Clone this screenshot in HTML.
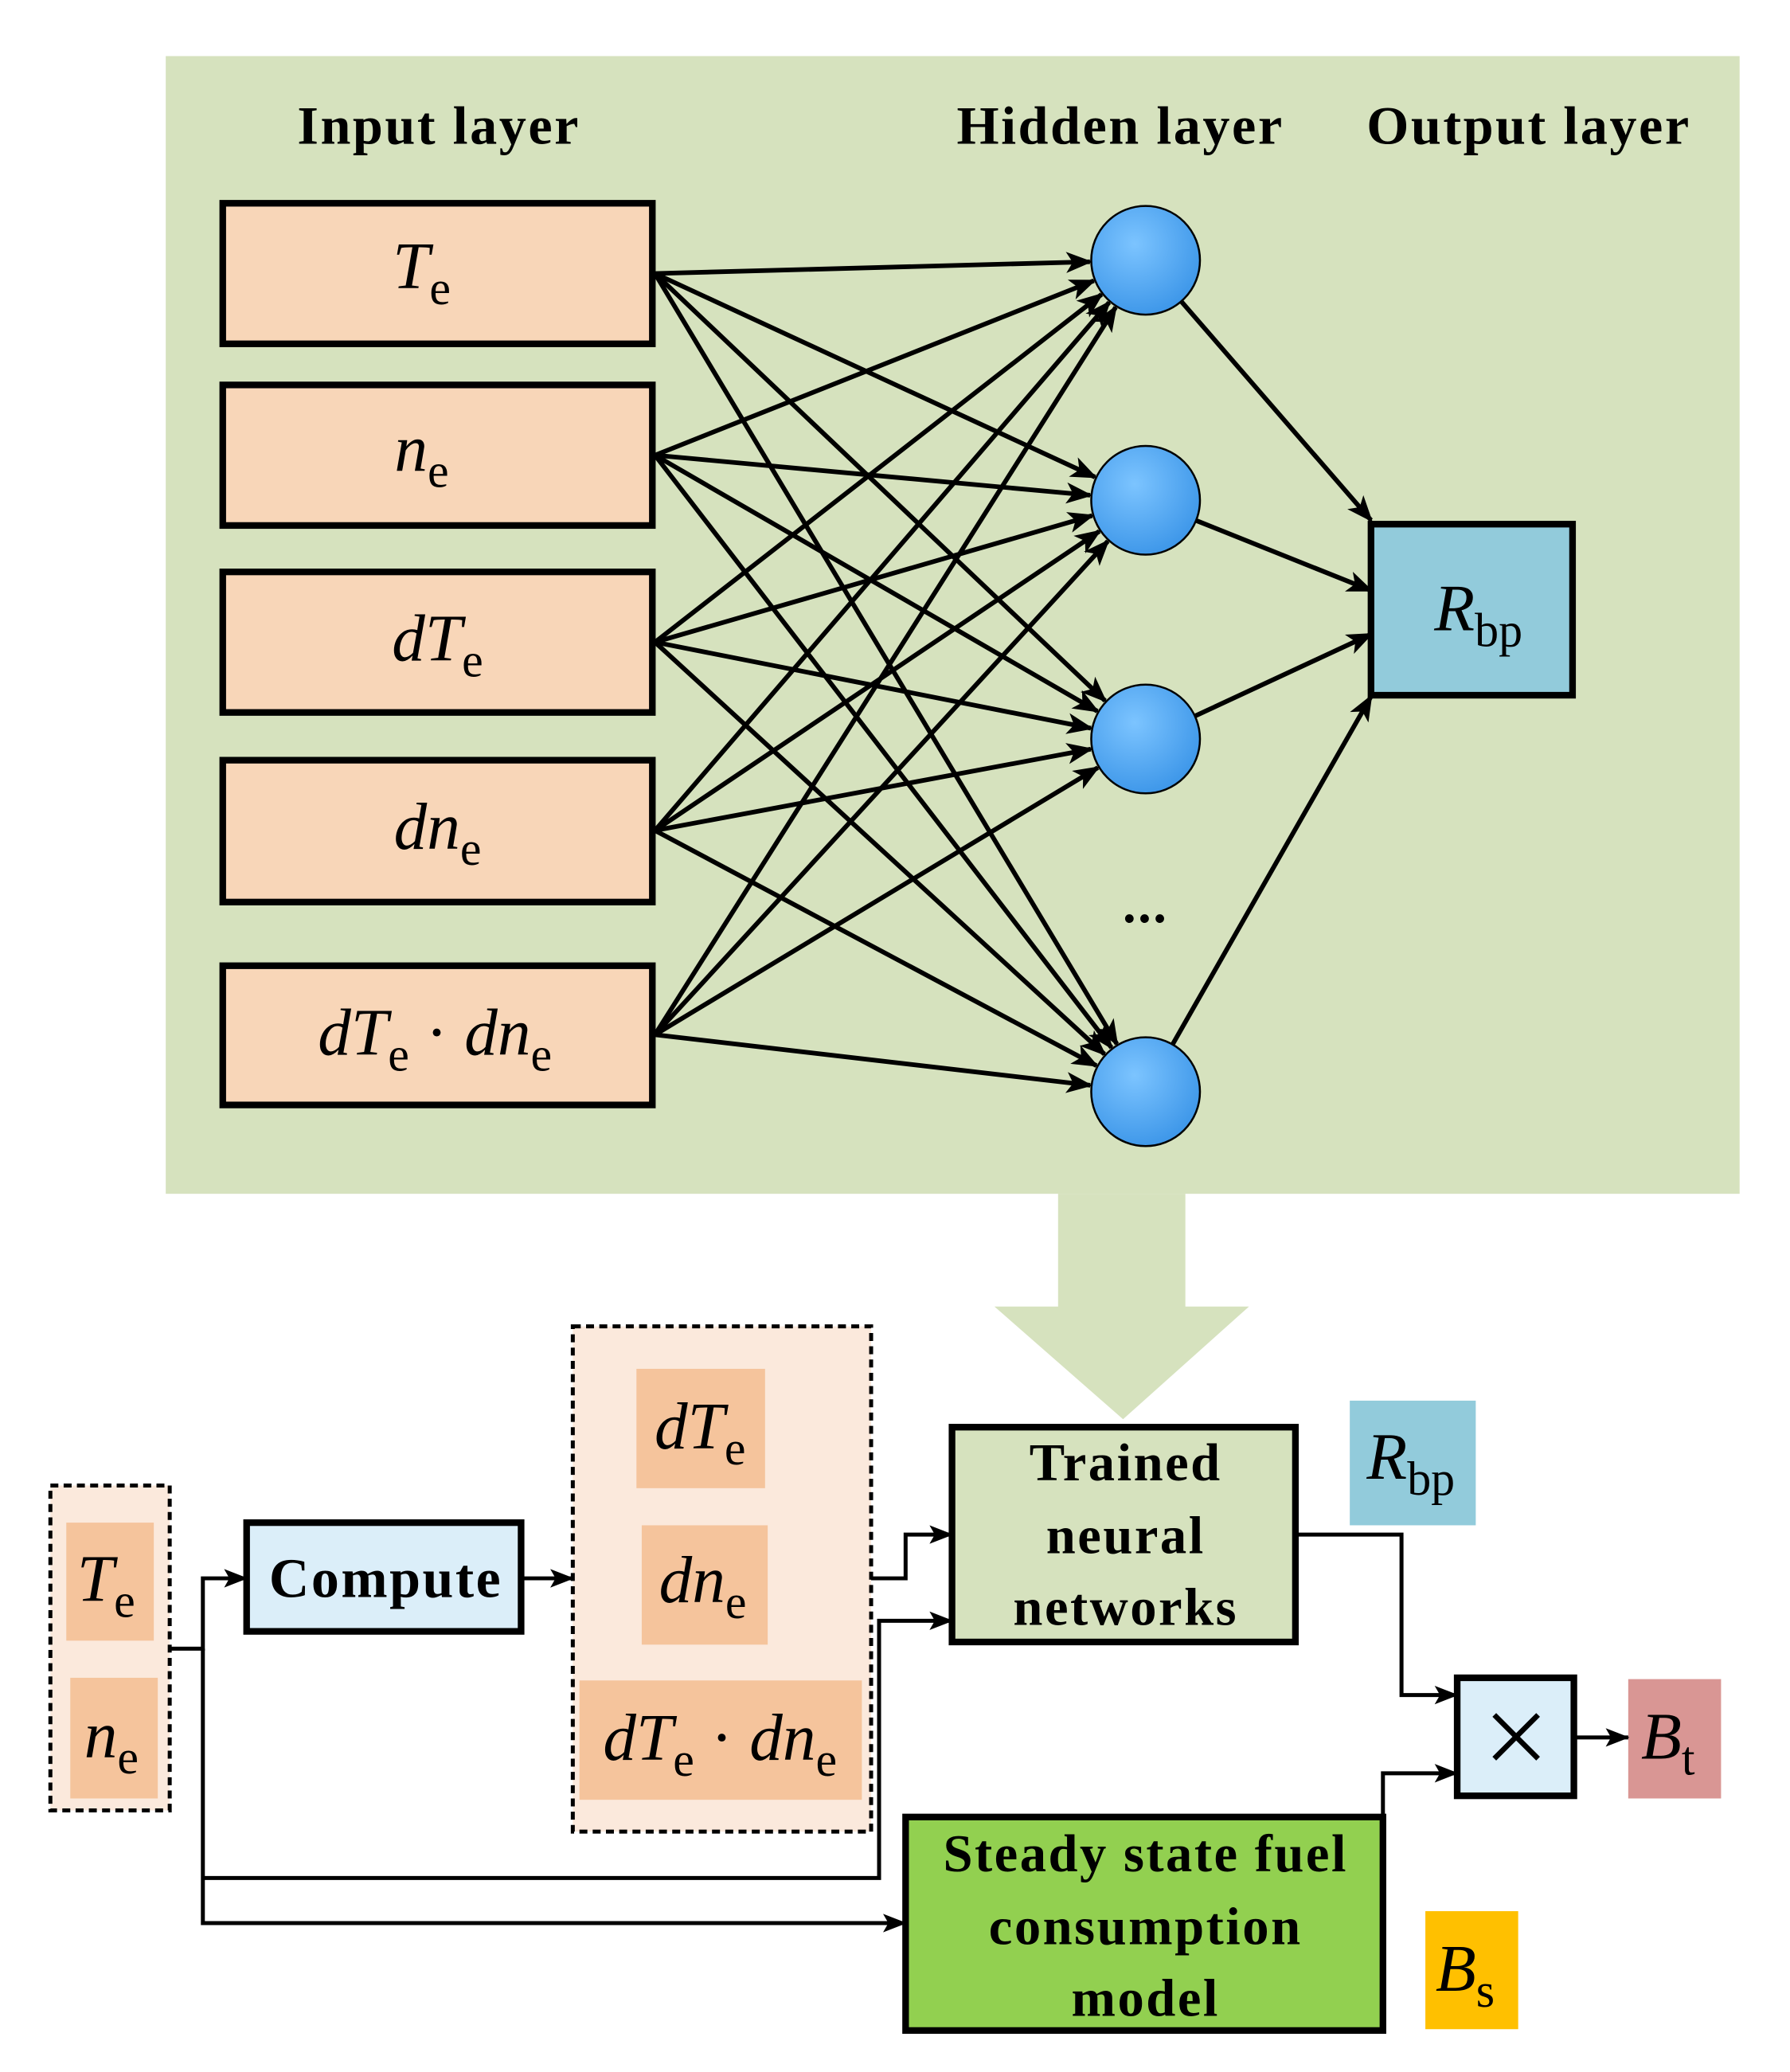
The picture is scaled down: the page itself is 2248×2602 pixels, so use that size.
<!DOCTYPE html>
<html><head><meta charset="utf-8"><style>
html,body{margin:0;padding:0;background:#fff}
svg{display:block}
text{font-family:"Liberation Serif",serif}
.b{font-weight:bold;letter-spacing:1.5px}
.i{font-style:italic}
</style></head><body>
<svg width="2248" height="2602" viewBox="0 0 1350 1562" xmlns="http://www.w3.org/2000/svg">
<defs>
<marker id="a" markerWidth="18" markerHeight="18" refX="17" refY="9" orient="auto" markerUnits="userSpaceOnUse" viewBox="0 0 18 18">
<path d="M0,2 L18,9 L0,16 L4,9 z" fill="#000"/></marker>
<marker id="m" markerWidth="20" markerHeight="20" refX="18" refY="10" orient="auto" markerUnits="userSpaceOnUse" viewBox="0 0 20 20">
<path d="M0,2 L20,10 L0,18 L5,10 z" fill="#000"/></marker>
<radialGradient id="g" cx="0.4" cy="0.35" r="0.7"><stop offset="0" stop-color="#7cc4ff"/><stop offset="1" stop-color="#3b95e8"/></radialGradient>
</defs>
<rect x="125" y="42" width="1187" height="858" fill="#d6e2be"/>
<text x="331" y="108" font-size="41" text-anchor="middle" class="b">Input layer</text>
<text x="845" y="108" font-size="41" text-anchor="middle" class="b">Hidden layer</text>
<text x="1153" y="108" font-size="41" text-anchor="middle" class="b">Output layer</text>
<g fill="#f8d6b8" stroke="#000" stroke-width="5">
<rect x="168" y="153" width="324" height="106"/>
<rect x="168" y="290" width="324" height="106"/>
<rect x="168" y="431" width="324" height="106"/>
<rect x="168" y="573" width="324" height="107"/>
<rect x="168" y="728" width="324" height="105"/>
</g>
<g font-size="50" class="i" text-anchor="middle">
<text x="318" y="217">T<tspan font-size="36" font-style="normal" dy="12">e</tspan></text>
<text x="318" y="355">n<tspan font-size="36" font-style="normal" dy="12">e</tspan></text>
<text x="330" y="498">dT<tspan font-size="36" font-style="normal" dy="12">e</tspan></text>
<text x="330" y="640">dn<tspan font-size="36" font-style="normal" dy="12">e</tspan></text>
<text x="328" y="795">dT<tspan font-size="36" font-style="normal" dy="12">e</tspan><tspan dy="-12" font-style="normal"> · </tspan>dn<tspan font-size="36" font-style="normal" dy="12">e</tspan></text>
</g>
<g stroke="#000" stroke-width="3.5" marker-end="url(#m)" id="lines"></g>
<g fill="url(#g)" stroke="#000" stroke-width="1.5">
<circle cx="864" cy="196" r="41"/><circle cx="864" cy="377" r="41"/><circle cx="864" cy="557" r="41"/><circle cx="864" cy="823" r="41"/>
</g>
<text x="864" y="695" font-size="40" text-anchor="middle" class="b">...</text>
<rect x="1034" y="395" width="152" height="129" fill="#92cbdb" stroke="#000" stroke-width="5"/>
<text x="1115" y="475" font-size="50" class="i" text-anchor="middle">R<tspan font-size="36" font-style="normal" dy="12">bp</tspan></text>
<polygon points="798,900 894,900 894,985 942,985 847,1070 750,985 798,985" fill="#d6e2be"/>

<rect x="38" y="1120" width="90" height="245" fill="#fbe9dc" stroke="#000" stroke-width="3" stroke-dasharray="6,4"/>
<rect x="50" y="1148" width="66" height="89" fill="#f5c49c"/>
<rect x="53" y="1265" width="66" height="91" fill="#f5c49c"/>
<g font-size="50" class="i" text-anchor="middle">
<text x="80" y="1207">T<tspan font-size="36" font-style="normal" dy="12">e</tspan></text>
<text x="84" y="1325">n<tspan font-size="36" font-style="normal" dy="12">e</tspan></text>
</g>
<rect x="186" y="1148" width="207" height="82" fill="#dbeef9" stroke="#000" stroke-width="5"/>
<text x="291" y="1204" font-size="42" class="b" text-anchor="middle">Compute</text>
<rect x="432" y="1000" width="225" height="381" fill="#fbe9dc" stroke="#000" stroke-width="3" stroke-dasharray="6,4"/>
<rect x="480" y="1032" width="97" height="90" fill="#f5c49c"/>
<rect x="484" y="1150" width="95" height="90" fill="#f5c49c"/>
<rect x="437" y="1267" width="213" height="90" fill="#f5c49c"/>
<g font-size="50" class="i" text-anchor="middle">
<text x="528" y="1092">dT<tspan font-size="36" font-style="normal" dy="12">e</tspan></text>
<text x="530" y="1208">dn<tspan font-size="36" font-style="normal" dy="12">e</tspan></text>
<text x="543" y="1327">dT<tspan font-size="36" font-style="normal" dy="12">e</tspan><tspan dy="-12" font-style="normal"> · </tspan>dn<tspan font-size="36" font-style="normal" dy="12">e</tspan></text>
</g>
<rect x="718" y="1076" width="259" height="162" fill="#d6e2be" stroke="#000" stroke-width="5"/>
<g font-size="40" class="b" text-anchor="middle">
<text x="849" y="1116">Trained</text><text x="849" y="1171">neural</text><text x="849" y="1225">networks</text>
</g>
<rect x="1018" y="1056" width="95" height="94" fill="#92cbdb"/>
<text x="1064" y="1115" font-size="50" class="i" text-anchor="middle">R<tspan font-size="36" font-style="normal" dy="12">bp</tspan></text>
<rect x="1099" y="1265" width="88" height="89" fill="#dbeef9" stroke="#000" stroke-width="5"/>
<path d="M1127,1293 L1160,1326 M1160,1293 L1127,1326" stroke="#000" stroke-width="4"/>
<rect x="1228" y="1266" width="70" height="90" fill="#d99694"/>
<text x="1258" y="1326" font-size="50" class="i" text-anchor="middle">B<tspan font-size="36" font-style="normal" dy="12">t</tspan></text>
<rect x="683" y="1370" width="360" height="161" fill="#92d050" stroke="#000" stroke-width="5"/>
<g font-size="40" class="b" text-anchor="middle">
<text x="864" y="1411">Steady state fuel</text><text x="864" y="1466">consumption</text><text x="864" y="1520">model</text>
</g>
<rect x="1075" y="1441" width="70" height="89" fill="#ffc000"/>
<text x="1105" y="1501" font-size="50" class="i" text-anchor="middle">B<tspan font-size="36" font-style="normal" dy="12">s</tspan></text>

<g stroke="#000" stroke-width="3" fill="none" marker-end="url(#a)">
<polyline points="128,1243 153,1243 153,1190 186,1190"/>
<polyline points="153,1243 153,1450 683,1450"/>
<polyline points="153,1416 663,1416 663,1222 718,1222"/>
<polyline points="393,1190 432,1190"/>
<polyline points="657,1190 683,1190 683,1157 718,1157"/>
<polyline points="977,1157 1057,1157 1057,1278 1099,1278"/>
<polyline points="1043,1370 1043,1337 1099,1337"/>
<polyline points="1187,1310 1228,1310"/>
</g>
</svg>
<script>
(function(){
var ins=[206,343,484,626,780],hs=[196,377,557,823],g=document.getElementById('lines'),ns="http://www.w3.org/2000/svg";
function ln(x1,y1,x2,y2){var l=document.createElementNS(ns,'line');l.setAttribute('x1',x1);l.setAttribute('y1',y1);l.setAttribute('x2',x2);l.setAttribute('y2',y2);g.appendChild(l);}
ins.forEach(function(y){hs.forEach(function(h){var dx=864-492,dy=h-y,d=Math.sqrt(dx*dx+dy*dy),t=(d-42)/d;ln(494,y,492+dx*t,y+dy*t);});});
var tg=[[1034,392],[1034,445],[1034,478],[1034,525]];
hs.forEach(function(h,i){var x2=tg[i][0],y2=tg[i][1],dx=x2-864,dy=y2-h,d=Math.sqrt(dx*dx+dy*dy),s=41/d;ln(864+dx*s,h+dy*s,x2,y2);});
})();
</script>
</body></html>
